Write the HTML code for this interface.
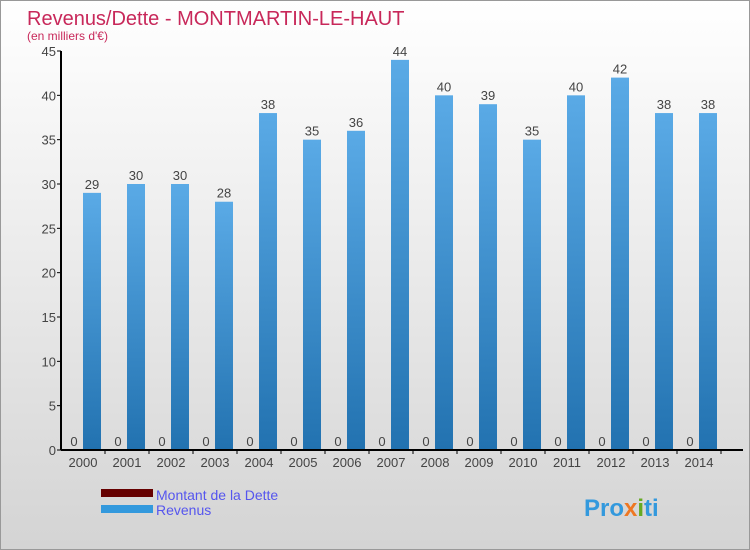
<!DOCTYPE html>
<html><head><meta charset="utf-8"><style>
body{margin:0}
#c{width:748px;height:548px;border:1px solid #999;background:linear-gradient(#fff,#d4d4d4);position:relative;font-family:"Liberation Sans",sans-serif;overflow:hidden}
</style></head><body>
<div id="c">
<svg id="s" width="748" height="548" xmlns="http://www.w3.org/2000/svg">
<defs>
<linearGradient id="gb" x1="0" y1="0" x2="0" y2="1"><stop offset="0" stop-color="#5aaae6"/><stop offset="1" stop-color="#2272b0"/></linearGradient>
</defs>
<text x="26" y="24" font-size="20" fill="#c8285a">Revenus/Dette - MONTMARTIN-LE-HAUT</text>
<text x="26" y="39" font-size="12" fill="#c8285a">(en milliers d'€)</text>
<g id="plot"></g>
<rect x="100" y="488" width="52" height="8" fill="#660000"/>
<text x="155" y="499" font-size="14" fill="#5555ee">Montant de la Dette</text>
<rect x="100" y="504" width="52" height="8" fill="#3399dd"/>
<text x="155" y="514" font-size="14" fill="#5555ee">Revenus</text>
<text x="583" y="515" font-size="24" font-weight="bold" fill="#3399dd">Pro<tspan fill="#ee7722">x</tspan><tspan fill="#66aa22">i</tspan>ti</text>
</svg>
</div>
<script>
const years=["2000","2001","2002","2003","2004","2005","2006","2007","2008","2009","2010","2011","2012","2013","2014"];
const revenus=[29,30,30,28,38,35,36,44,40,39,35,40,42,38,38];
const dette=[0,0,0,0,0,0,0,0,0,0,0,0,0,0,0];
const yTicks=[0,5,10,15,20,25,30,35,40,45];
const NS="http://www.w3.org/2000/svg";
const g=document.getElementById('plot');
const x0=60,step=44,yBase=449,yMax=45,yTop=50;
function y(v){return yBase-(v/yMax)*(yBase-yTop);}
function gx(i){return x0+4+i*step;}
function mk(t,a){const e=document.createElementNS(NS,t);for(const k in a)e.setAttribute(k,a[k]);g.appendChild(e);return e;}
yTicks.forEach(v=>{
 const l=mk('line',{x1:x0-4,x2:x0,y1:y(v),y2:y(v),stroke:'#000'});
 
 
 const t=mk('text',{x:x0-5,y:y(v)+5,'font-size':13,'text-anchor':'end',fill:'#444'});t.textContent=v;
 
 
});
years.forEach((yr,i)=>{
 const bx=gx(i);
 const d=mk('rect',{x:bx,y:y(dette[i])-1,width:18,height:Math.max(1,yBase-y(dette[i])+1),fill:'#660000'});
 
 
 const r=mk('rect',{x:bx+18,y:y(revenus[i]),width:18,height:yBase-y(revenus[i]),fill:'url(#gb)'});
 
 
 const t1=mk('text',{x:bx+9,y:y(dette[i])-4,'font-size':13,'text-anchor':'middle',fill:'#444'});t1.textContent=dette[i];
 
 
 const t2=mk('text',{x:bx+27,y:y(revenus[i])-4,'font-size':13,'text-anchor':'middle',fill:'#444'});t2.textContent=revenus[i];
 
 
 const tk=mk('line',{x1:bx+36+4,x2:bx+36+4,y1:yBase,y2:yBase+4,stroke:'#000'});
 
 
 const xl=mk('text',{x:bx+18,y:yBase+17,'font-size':13,'text-anchor':'middle',fill:'#444'});xl.textContent=yr;
 
 
});
const ya=mk('line',{x1:x0,x2:x0,y1:yTop,y2:yBase,stroke:'#000','stroke-width':2});


const xa=mk('line',{x1:x0,x2:742,y1:yBase,y2:yBase,stroke:'#000','stroke-width':2});


</script>
</body></html>
